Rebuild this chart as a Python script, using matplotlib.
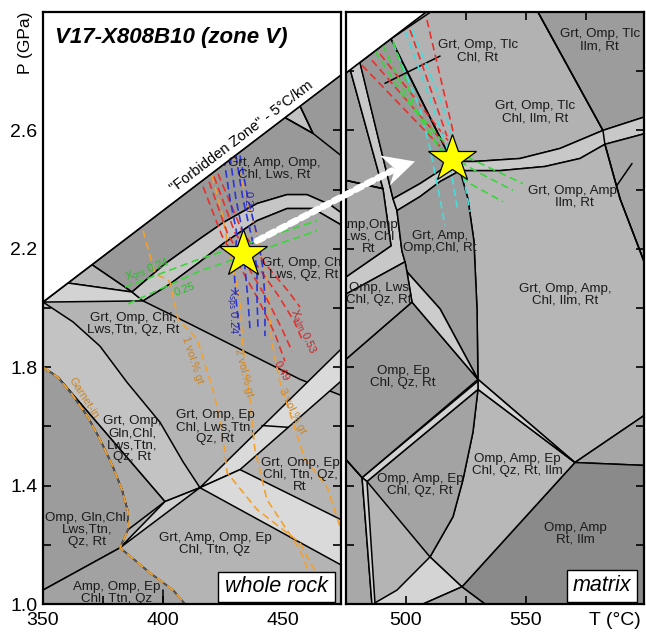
import matplotlib.pyplot as plt
from matplotlib.patches import Polygon, Rectangle, ConnectionPatch

plt.rcParams['font.family'] = ['Liberation Sans', 'DejaVu Sans']

# 5 °C/km limit ("forbidden zone"), P in GPa, T in °C
FZ_SLOPE = 0.006186


def fz(t):
    return 2.02 + FZ_SLOPE * (t - 350.0)


# ---------------- whole rock section ----------------
wr_band_top = [(387.1, 2.054), (400.8, 2.149), (415.4, 2.234), (425.0, 2.288), (439.2, 2.353),
               (451.7, 2.383), (460.0, 2.383), (469.6, 2.349), (474.2, 2.322)]
wr_band_bot = [(391.7, 2.024), (402.9, 2.081), (415.4, 2.156), (425.0, 2.217), (439.2, 2.295),
               (451.7, 2.336), (462.5, 2.336), (474.2, 2.281)]
wr_diag = [(391.7, 2.024), (411.25, 1.946), (457.1, 1.759), (474.2, 1.705)]
wr_gln_edge = [(350.0, 2.02), (362.5, 1.953), (373.75, 1.871), (385.0, 1.749), (398.75, 1.614),
               (408.3, 1.481), (415.4, 1.393)]
wr_garnet_in = [(350.0, 1.8), (356.25, 1.766), (362.1, 1.708), (368.75, 1.631), (373.75, 1.556),
                (378.75, 1.471), (382.9, 1.386), (385.4, 1.312), (385.4, 1.251), (382.1, 1.19),
                (394.6, 1.105), (404.2, 1.047), (409.2, 1.0)]
wr_j1 = (415.4, 1.393)
wr_j2 = (382.1, 1.19)
wr_lens = (400.8, 1.346)
wr_inner_top = (356.25, 1.766)

wr_band1 = [wr_j1, (474.2, 1.861), (474.2, 1.753), (432.1, 1.454)]
wr_band2 = [wr_j1, (432.1, 1.454), (474.2, 1.285), (474.2, 1.132)]

wr_extra_lines = [
    [(441.25, 1.603), (452.1, 1.597)],
    [(450.8, fz(450.8)), (462.5, 2.590), (474.2, 2.515)],
    [(457.1, fz(457.1)), (462.5, 2.590)],
    [(400.0, 1.0), (400.0, 1.047)],
]

wr_gt1 = [(391.7, 2.261), (396.7, 2.115), (402.1, 2.095), (403.0, 2.085), (406.25, 1.963),
          (414.2, 1.895), (420.8, 1.725), (424.6, 1.59), (426.7, 1.444), (439.2, 1.319),
          (457.1, 1.207), (466.0, 1.07)]
wr_gt2 = [(420.4, 2.447), (424.6, 2.319), (427.9, 2.176), (432.1, 2.031), (433.3, 1.861),
          (436.25, 1.692), (438.3, 1.522), (443.3, 1.353), (457.1, 1.183), (465.4, 1.014)]
wr_gt3 = [(430.0, 2.505), (435.0, 2.369), (439.2, 2.244), (443.3, 2.088), (445.4, 1.885),
          (448.75, 1.749), (453.75, 1.624), (459.2, 1.488), (468.3, 1.397), (474.2, 1.251)]

wr_alm = [
    [(416.7, 2.410), (424.6, 2.244), (432.1, 2.139), (439.6, 2.031), (446.7, 1.912), (450.8, 1.820)],
    [(419.2, 2.427), (427.1, 2.247), (435.4, 2.139), (442.9, 2.037), (449.6, 1.929), (453.75, 1.854)],
    [(421.25, 2.444), (430.0, 2.254), (439.6, 2.139), (447.9, 2.044), (454.6, 1.956), (457.9, 1.895)],
    [(422.9, 2.454), (432.9, 2.261), (442.9, 2.146), (452.1, 2.058), (457.1, 2.003)],
]
wr_sps = [
    [(425.4, 2.505), (427.9, 2.369), (430.8, 2.251), (429.6, 2.132), (430.4, 2.031), (432.1, 1.905)],
    [(427.9, 2.512), (430.4, 2.369), (433.3, 2.251), (434.2, 2.132), (435.4, 2.031), (436.25, 1.929)],
    [(430.4, 2.515), (433.3, 2.369), (437.1, 2.234), (439.2, 2.132), (439.2, 2.031), (439.6, 1.929)],
    [(432.1, 2.515), (435.4, 2.369), (439.6, 2.234), (441.7, 2.132), (442.5, 2.031), (442.5, 1.905)],
]
wr_grs = [
    [(384.2, 2.071), (415.4, 2.166), (464.2, 2.295)],
    [(385.4, 2.014), (415.4, 2.125), (464.2, 2.261)],
]
wr_star = (433.3, 2.183)

wr_labels = [
    ("Grt, Amp, Omp,\nChl, Lws, Rt", 446.5, 2.47),
    ("Grt, Omp, Chl\nLws, Qz, Rt", 458.5, 2.132),
    ("Grt, Omp, Chl,\nLws,Ttn, Qz, Rt", 387.5, 1.946),
    ("Grt, Omp,\nGln,Chl,\nLws,Ttn,\nQz, Rt", 387.1, 1.556),
    ("Grt, Omp, Ep\nChl, Lws,Ttn,\nQz, Rt", 421.7, 1.597),
    ("Grt, Omp, Ep\nChl, Ttn, Qz,\nRt", 457.1, 1.437),
    ("Omp, Gln,Chl,\nLws,Ttn,\nQz, Rt", 368.3, 1.251),
    ("Grt, Amp, Omp, Ep\nChl, Ttn, Qz", 421.7, 1.203),
    ("Amp, Omp, Ep\nChl, Ttn, Qz", 380.8, 1.036),
]

# ---------------- matrix section ----------------
mx_br_left = [(476.7, 2.807), (490.4, 2.403), (493.75, 2.21), (475.0, 2.105)]
mx_br_right = [(480.8, 2.832), (494.6, 2.369), (496.25, 2.329), (498.3, 2.193),
               (499.6, 2.156), (475.0, 2.047)]
mx_band_top = [(494.6, 2.369), (505.8, 2.420), (514.2, 2.464), (519.2, 2.495), (528.75, 2.495),
               (547.5, 2.505), (564.2, 2.539), (582.1, 2.600), (600.0, 2.647)]
mx_band_bot = [(496.25, 2.329), (505.8, 2.376), (514.2, 2.427), (522.5, 2.464), (539.2, 2.464),
               (557.9, 2.478), (572.5, 2.505), (582.9, 2.553), (600.0, 2.590)]
mx_v1 = [(522.5, 2.464), (525.8, 2.369), (528.3, 2.227), (529.6, 1.996), (530.0, 1.759)]
mx_c1 = [(530.0, 1.725), (527.9, 1.580), (523.75, 1.420), (519.6, 1.295), (510.0, 1.159),
         (496.25, 1.047), (486.25, 1.0)]
mx_far = [(555.0, 3.0), (582.1, 2.600), (582.9, 2.553), (589.2, 2.369), (600.0, 2.14)]
mx_extra_lines = [
    [(475.0, 2.431), (490.4, 2.403)],
    [(491.25, 2.759), (514.2, 2.851)],
    [(587.9, 2.414), (594.2, 2.488)],
    [(493.75, fz(493.75)), (519.2, 2.495)],
    [(475.0, 1.488), (481.7, 1.427)],
]

mx_alm = [
    [(481.7, 2.820), (514.2, 2.546)],
    [(485.8, 2.837), (516.25, 2.553)],
    [(489.2, 2.858), (517.5, 2.566)],
    [(501.7, 2.939), (517.1, 2.580)],
    [(508.75, 2.973), (519.6, 2.597)],
]
mx_sps = [
    [(494.6, 2.895), (505.8, 2.675), (510.0, 2.539), (514.2, 2.369), (516.25, 2.278)],
    [(499.6, 2.936), (510.0, 2.708), (517.1, 2.539), (521.7, 2.325)],
    [(502.5, 2.939), (514.2, 2.708), (522.5, 2.505), (526.7, 2.325)],
]
mx_grs = [
    [(487.1, 2.868), (499.6, 2.708), (514.2, 2.573), (526.7, 2.505), (548.75, 2.420)],
    [(490.4, 2.888), (501.7, 2.692), (514.2, 2.539), (528.75, 2.464), (544.6, 2.397)],
    [(494.6, 2.902), (503.75, 2.675), (516.25, 2.505), (526.7, 2.420), (540.4, 2.359)],
]
mx_star = (519.2, 2.505)

mx_labels = [
    ("Grt, Omp, Tlc\nChl, Rt", 530.0, 2.868),
    ("Grt, Omp, Tlc\nIlm, Rt", 580.8, 2.905),
    ("Grt, Omp, Tlc\nChl, Ilm, Rt", 553.75, 2.661),
    ("Grt, Omp, Amp,\nIlm, Rt", 570.0, 2.376),
    ("Amp,Omp\nLws, Chl\nRt", 484.6, 2.241),
    ("Grt, Amp,\nOmp,Chl, Rt", 514.2, 2.224),
    ("Omp, Lws\nChl, Qz, Rt", 488.75, 2.047),
    ("Grt, Omp, Amp,\nChl, Ilm, Rt", 566.25, 2.044),
    ("Omp, Ep\nChl, Qz, Rt", 498.75, 1.766),
    ("Omp, Amp, Ep\nChl, Qz, Rt", 505.8, 1.403),
    ("Omp, Amp, Ep\nChl, Qz, Rt, Ilm", 546.25, 1.468),
    ("Omp, Amp\nRt, Ilm", 570.4, 1.237),
]

ORANGE = '#f2a12e'
RED = '#e8302c'
BLUE = '#2b35d8'
GREEN = '#3ad63a'
CYAN = '#46dcdc'
DASH = (0, (4.5, 2.6))


def field(ax, pts, color, z=1):
    ax.add_patch(Polygon(pts, closed=True, facecolor=color, edgecolor='black',
                         lw=1.1, joinstyle='round', zorder=z))


def curve(ax, pts, color='black', lw=1.1, z=3, ls='-'):
    t, p = zip(*pts)
    ax.plot(t, p, color=color, lw=lw, ls=ls, zorder=z, solid_capstyle='round')


def dashed(ax, lines, color):
    for pts in lines:
        curve(ax, pts, color=color, lw=1.2, z=5, ls=DASH)


fig = plt.figure(figsize=(6.46, 6.34), dpi=100)
axL = fig.add_axes([0.0666, 0.0473, 0.4613, 0.9338])
axR = fig.add_axes([0.5356, 0.0473, 0.4613, 0.9338])

for ax, x0, x1 in ((axL, 350.0, 474.2), (axR, 475.0, 599.2)):
    ax.set_xlim(x0, x1)
    ax.set_ylim(1.0, 3.0)
    ax.set_facecolor('#b4b4b4')
    for s in ax.spines.values():
        s.set_linewidth(1.6)
        s.set_zorder(20)
    ax.tick_params(direction='in', length=6, width=1.2, top=True, right=True,
                   labelsize=14, pad=4)
    ax.tick_params(axis='x', pad=6)
    ax.set_yticks([1.0, 1.2, 1.4, 1.6, 1.8, 2.0, 2.2, 2.4, 2.6, 2.8])

axL.set_xticks([350, 375, 400, 425, 450])
axL.set_xticklabels(['350', '', '400', '', '450'])
axL.set_yticklabels(['1.0', '', '1.4', '', '1.8', '', '2.2', '', '2.6', ''])
axR.set_xticks([500, 525, 550, 575])
axR.set_xticklabels(['500', '', '550', ''])
axR.set_yticklabels([])

# ---- whole rock fields ----
field(axL, [(370.4, fz(370.4)), (474.2, fz(474.2))] + wr_band_top[::-1], '#999999')
field(axL, [(360.4, fz(360.4)), (370.4, fz(370.4)), wr_band_top[0]], '#b8b8b8')
field(axL, [(350.0, 2.02), (360.4, fz(360.4)), wr_band_top[0], wr_band_bot[0]], '#d3d3d3')
field(axL, wr_band_top + wr_band_bot[::-1], '#c6c6c6')
field(axL, wr_band_bot + wr_diag[::-1], '#a6a6a6')
field(axL, wr_gln_edge + [wr_lens, wr_inner_top, (350.0, 1.8)], '#c3c3c3')
field(axL, wr_garnet_in[1:9] + [wr_lens], '#ababab')
field(axL, wr_garnet_in[:10] + [(350.0, 1.047)], '#9c9c9c')
field(axL, [(350.0, 1.047)] + wr_garnet_in[9:] + [(350.0, 1.0)], '#a2a2a2')
field(axL, [wr_j2, wr_lens, wr_j1], '#cfcfcf')
field(axL, wr_band1, '#dadada')
field(axL, wr_band2, '#dadada')
field(axL, [(450.8, fz(450.8)), (457.1, fz(457.1)), (462.5, 2.590)], '#c2c2c2')
for pts in wr_extra_lines:
    curve(axL, pts)

# garnet-in boundary: grey line under orange dashes
curve(axL, wr_garnet_in, color='#555555', lw=1.3, z=4)
curve(axL, wr_garnet_in, color=ORANGE, lw=1.3, z=5, ls=DASH)
dashed(axL, [wr_gt1, wr_gt2, wr_gt3], ORANGE)
dashed(axL, wr_alm, RED)
dashed(axL, wr_sps, BLUE)
dashed(axL, wr_grs, GREEN)

# forbidden zone
axL.add_patch(Polygon([(350.0, fz(350.0)), (350.0, 3.05), (474.2, 3.05), (474.2, fz(474.2))],
                      facecolor='white', edgecolor='black', lw=1.2, zorder=6))

lab_kw = dict(ha='center', va='center', fontsize=9.6, color='#1a1a1a',
              linespacing=1.0, zorder=8, clip_on=True)
for s, t, p in wr_labels:
    axL.text(t, p, s, **lab_kw)

iso_kw = dict(ha='center', va='center', fontsize=8, zorder=8, rotation_mode='anchor')
axL.text(367.1, 1.695, 'Garnet-in', color='#c8862a', rotation=-57, **iso_kw)
axL.text(412.1, 1.824, '1 vol.% gt', color='#c8862a', rotation=-72, **iso_kw)
axL.text(433.75, 1.783, '2 vol.% gt', color='#c8862a', rotation=-76, **iso_kw)
axL.text(453.75, 1.651, '3 vol.% gt', color='#c8862a', rotation=-64, **iso_kw)
axL.text(458.3, 1.922, r'X$_{\rm alm}$ 0.53', color='#c02828', rotation=-66, **iso_kw)
axL.text(449.2, 1.786, '0.49', color='#c02828', rotation=-62, **iso_kw)
axL.text(428.3, 1.99, r'X$_{\rm sps}$ 0.24', color='#2a2aaa', rotation=-90, **iso_kw)
axL.text(435.2, 2.36, '0.20', color='#2a2aaa', rotation=-90, **iso_kw)
axL.text(393.75, 2.125, r'X$_{\rm grs}$ 0.24', color='#28c028', rotation=20, **iso_kw)
axL.text(409.2, 2.064, '0.25', color='#28c028', rotation=20, **iso_kw)

axL.text(432.9, 2.58, '"Forbidden Zone" - 5°C/km', rotation=37.2, rotation_mode='anchor',
         ha='center', va='center', fontsize=10.5, zorder=8)
axL.text(355.0, 2.915, 'V17-X808B10 (zone V)', fontsize=16, fontweight='bold',
         fontstyle='italic', ha='left', va='center', zorder=8)

axL.plot(*wr_star, marker='*', ms=36, mfc='#ffff00', mec='black', mew=0.9, zorder=10)

axL.add_patch(Rectangle((422.9, 1.007), 48.8, 0.101, facecolor='white',
                        edgecolor='black', lw=1.0, zorder=9))
axL.text(447.3, 1.058, 'whole rock', fontsize=15.5, fontstyle='italic',
         ha='center', va='center', zorder=10)

# ---- matrix fields ----
field(axR, [(475.0, fz(475.0)), mx_br_left[0], mx_br_left[1], (475.0, 2.431)], '#a4a4a4')
field(axR, mx_br_left + mx_br_right[::-1], '#c8c8c8')
field(axR, [(475.0, 2.431), mx_br_left[1], mx_br_left[2], mx_br_left[3]], '#a6a6a6')
field(axR, [(480.8, fz(480.8)), (493.75, fz(493.75))] + mx_band_top[:4][::-1], '#9a9a9a')
field(axR, [(493.75, fz(493.75)), (510.3, 3.0), (555.0, 3.0)] + mx_band_top[3:8][::-1], '#b2b2b2')
field(axR, [(555.0, 3.0), (600.0, 3.0), (600.0, 2.647), (582.1, 2.600)], '#9c9c9c')
field(axR, mx_band_top + mx_band_bot[::-1], '#c8c8c8')
field(axR, [(582.9, 2.553), (600.0, 2.590), (600.0, 2.14), (589.2, 2.369)], '#a6a6a6')
field(axR, mx_band_bot[3:8] + [(589.2, 2.369), (600.0, 2.14), (600.0, 1.641), (570.4, 1.478)]
      + mx_v1[::-1], '#b6b6b6')
field(axR, [(570.4, 1.478), (600.0, 1.641), (600.0, 1.468)], '#a6a6a6')
field(axR, [(570.4, 1.478), (600.0, 1.468), (600.0, 1.0), (532.9, 1.0), (523.3, 1.058)], '#8a8a8a')
field(axR, [(530.0, 1.725), (570.4, 1.478), (523.3, 1.058)] + mx_c1[:5][::-1], '#b8b8b8')
field(axR, [(530.0, 1.759), (570.4, 1.478), (530.0, 1.725)], '#d4d4d4')
field(axR, mx_c1[:5] + [(483.75, 1.414)], '#a3a3a3')
field(axR, [(481.7, 1.427), (530.0, 1.753), (530.0, 1.725), (483.75, 1.414)], '#d2d2d2')
field(axR, [(510.0, 1.159), (523.3, 1.058), (507.1, 1.0), (486.25, 1.0), (496.25, 1.047)], '#d4d4d4')
field(axR, [(507.1, 1.0), (523.3, 1.058), (532.9, 1.0)], '#b0b0b0')
field(axR, [(475.0, 1.488), (481.7, 1.427), (485.8, 1.0), (475.0, 1.0)], '#a8a8a8')
field(axR, [(481.7, 1.427), (483.75, 1.414), (487.1, 1.0), (485.8, 1.0)], '#d0d0d0')
field(axR, [(475.0, 1.827), (502.5, 2.020), (530.0, 1.759), (481.7, 1.427), (475.0, 1.488)], '#9b9b9b')
field(axR, mx_band_bot[:4] + mx_v1[1:] + [(514.2, 1.997), (500.4, 2.122), (499.6, 2.156),
                                          (498.3, 2.193)], '#9c9c9c')
field(axR, [(500.4, 2.122), (514.2, 1.997), (530.0, 1.759), (502.5, 2.020)], '#cccccc')
field(axR, [(475.0, 2.047), (499.6, 2.156), (500.4, 2.122), (502.5, 2.020), (475.0, 1.827)], '#a8a8a8')
curve(axR, mx_far)
for pts in mx_extra_lines:
    curve(axR, pts)

dashed(axR, mx_alm, RED)
dashed(axR, mx_sps, CYAN)
dashed(axR, mx_grs, GREEN)

axR.add_patch(Polygon([(475.0, fz(475.0)), (475.0, 3.05), (515.0, 3.05), (515.0, fz(515.0))],
                      facecolor='white', edgecolor='black', lw=1.2, zorder=6))

for s, t, p in mx_labels:
    axR.text(t, p, s, **lab_kw)

axR.plot(*mx_star, marker='*', ms=36, mfc='#ffff00', mec='black', mew=0.9, zorder=10)

axR.add_patch(Rectangle((567.1, 1.007), 29.2, 0.108, facecolor='white',
                        edgecolor='black', lw=1.0, zorder=9))
axR.text(581.7, 1.061, 'matrix', fontsize=15.5, fontstyle='italic',
         ha='center', va='center', zorder=10)

# white dotted path from whole rock to matrix conditions
path = ConnectionPatch(xyA=(439.2, 2.227), coordsA=axL.transData,
                       xyB=(494.2, 2.464), coordsB=axR.transData,
                       color='white', lw=4.8, linestyle=(0, (1.1, 0.75)), zorder=9)
fig.add_artist(path)
axR.add_patch(Polygon([(489.2, 2.515), (503.75, 2.495), (493.3, 2.414), (495.4, 2.470)],
                      facecolor='white', edgecolor='none', zorder=9))

fig.text(0.0387, 0.932, 'P (GPa)', rotation=90, ha='center', va='center', fontsize=12.5)
fig.text(0.952, 0.022, 'T (°C)', ha='center', va='center', fontsize=14)

fig.savefig('out.png', dpi=100)
